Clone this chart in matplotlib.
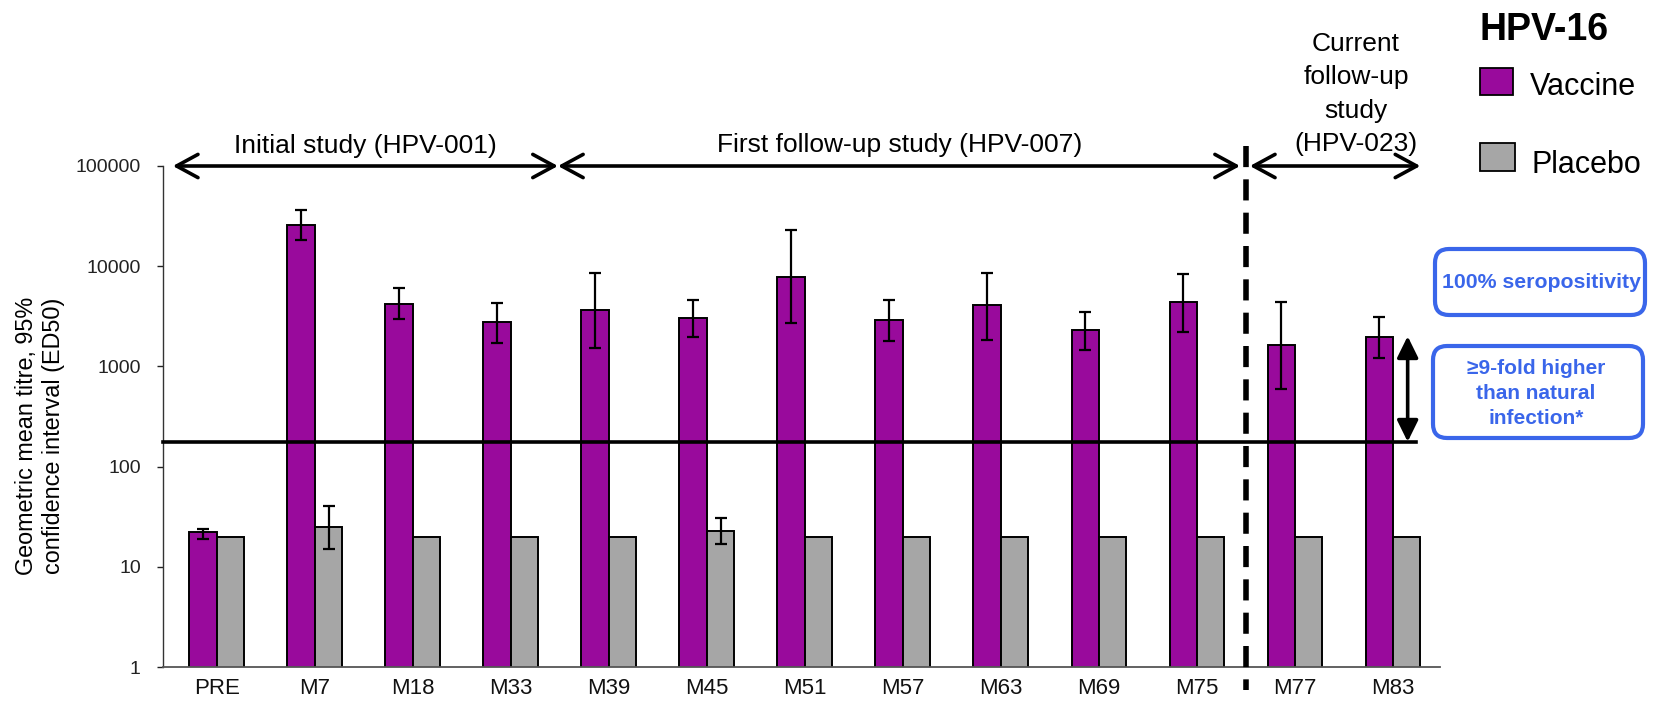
import matplotlib
matplotlib.use('Agg')
import matplotlib.pyplot as plt
import numpy as np
from matplotlib.patches import Rectangle, FancyBboxPatch
from matplotlib.ticker import FixedLocator, FixedFormatter, NullLocator

plt.rcParams['font.family'] = ['Liberation Sans', 'DejaVu Sans']

# timepoints
timepoints = ['PRE', 'M7', 'M18', 'M33', 'M39', 'M45', 'M51', 'M57', 'M63', 'M69', 'M75', 'M77', 'M83']

# HPV-16 geometric mean titres (ED50) with 95% CI
vaccine = [22, 25600, 4200, 2770, 3650, 3040, 7800, 2900, 4090, 2310, 4380, 1640, 1970]
vaccine_lo = [18.8, 18100, 2970, 1710, 1530, 1970, 2710, 1790, 1840, 1460, 2200, 600, 1220]
vaccine_hi = [24.1, 36100, 6040, 4280, 8510, 4590, 22800, 4590, 8510, 3480, 8320, 4400, 3110]

placebo = [20, 25, 20, 20, 20, 23, 20, 20, 20, 20, 20, 20, 20]
placebo_lo = [np.nan, 15, np.nan, np.nan, np.nan, 17, np.nan, np.nan, np.nan, np.nan, np.nan, np.nan, np.nan]
placebo_hi = [np.nan, 40, np.nan, np.nan, np.nan, 31, np.nan, np.nan, np.nan, np.nan, np.nan, np.nan, np.nan]

natural_infection = 177     # horizontal reference level
ninefold_top = 2000         # top of the vertical double arrow
y_ticks = [1, 10, 100, 1000, 10000, 100000]
y_ticklabels = ['1', '10', '100', '1000', '10000', '100000']

studies = ['Initial study (HPV-001)', 'First follow-up study (HPV-007)',
           'Current\nfollow-up\nstudy\n(HPV-023)']

PURPLE = '#990a9c'
GREY = '#a6a6a6'
BLUE = '#3a66ea'

W, H = 1655, 701
fig = plt.figure(figsize=(W / 100, H / 100), dpi=100)
ax = fig.add_axes([163 / W, (H - 667) / H, (1440 - 163) / W, (667 - 166) / H])
ax.patch.set_alpha(0)

x = np.arange(len(timepoints))
bw = 0.28
vaccine = np.array(vaccine)
placebo = np.array(placebo)

ax.bar(x - bw / 2, vaccine, bw, color=PURPLE, edgecolor='black', linewidth=1.4, zorder=2)
ax.bar(x + bw / 2, placebo, bw, color=GREY, edgecolor='black', linewidth=1.4, zorder=2)

v_err = [vaccine - np.array(vaccine_lo), np.array(vaccine_hi) - vaccine]
ax.errorbar(x - bw / 2, vaccine, yerr=v_err, fmt='none', ecolor='black',
            elinewidth=1.6, capsize=4.5, capthick=1.6, zorder=3)
p_err = [placebo - np.array(placebo_lo), np.array(placebo_hi) - placebo]
ax.errorbar(x + bw / 2, placebo, yerr=p_err, fmt='none', ecolor='black',
            elinewidth=1.6, capsize=4.5, capthick=1.6, zorder=3)

ax.set_yscale('log')
ax.set_ylim(1, 100000)
ax.set_xlim(-0.55, 12.48)

ax.yaxis.set_major_locator(FixedLocator(y_ticks))
ax.yaxis.set_major_formatter(FixedFormatter(y_ticklabels))
ax.yaxis.set_minor_locator(NullLocator())
ax.tick_params(axis='y', length=4, width=1, pad=12, labelsize=14, colors='#222222')
ax.set_xticks(x)
ax.set_xticklabels(timepoints)
ax.tick_params(axis='x', length=0, pad=8, labelsize=16, colors='#111111')

for s in ['top', 'right']:
    ax.spines[s].set_visible(False)
ax.spines['left'].set_color('#333333')
ax.spines['bottom'].set_color('#555555')
ax.spines['left'].set_linewidth(1.0)
ax.spines['bottom'].set_linewidth(1.3)

# natural infection level
ax.plot([-0.55, 12.24], [natural_infection, natural_infection], color='black', lw=2.6,
        zorder=4, clip_on=False)
ax.annotate('', xy=(12.15, ninefold_top), xytext=(12.15, natural_infection),
            arrowprops=dict(arrowstyle='<|-|>,head_length=0.65,head_width=0.32',
                            color='black', lw=2.6, shrinkA=0, shrinkB=0,
                            mutation_scale=20), annotation_clip=False)

# study separator
ax.plot([10.5, 10.5], [1.6e5, 0.59], color='black', lw=4, linestyle=(0, (3.8, 2.2)),
        clip_on=False, zorder=5)

# study period arrows
arrow_kw = dict(arrowstyle='<->,head_length=0.7,head_width=0.38', color='black', lw=2.6,
                shrinkA=0, shrinkB=0, mutation_scale=22)
for x0, x1 in [(-0.45, 3.48), (3.48, 10.44), (10.54, 12.28)]:
    ax.annotate('', xy=(x1, 1e5), xytext=(x0, 1e5), arrowprops=arrow_kw,
                annotation_clip=False)

fig.text(365 / W, 1 - 146 / H, studies[0], fontsize=19, ha='center', va='center')
fig.text(900 / W, 1 - 145 / H, studies[1], fontsize=19, ha='center', va='center')
fig.text(1356 / W, 1 - 94 / H, studies[2], fontsize=19, ha='center', va='center',
         linespacing=1.5)

fig.text(40 / W, 1 - 436 / H, 'Geometric mean titre, 95%\nconfidence interval (ED50)',
         fontsize=16.8, rotation=90, ha='center', va='center', linespacing=1.2)

# legend
fig.text(1480 / W, 1 - 30 / H, 'HPV-16', fontsize=27, fontweight='bold', ha='left', va='center')
fig.add_artist(Rectangle((14.80, (H - 95) / 100), 0.33, 0.27, transform=fig.dpi_scale_trans,
                         facecolor=PURPLE, edgecolor='black', lw=1.3))
fig.text(1530 / W, 1 - 87 / H, 'Vaccine', fontsize=22, ha='left', va='center')
fig.add_artist(Rectangle((14.80, (H - 171) / 100), 0.35, 0.28, transform=fig.dpi_scale_trans,
                         facecolor=GREY, edgecolor='black', lw=1.3))
fig.text(1532 / W, 1 - 165 / H, 'Placebo', fontsize=22, ha='left', va='center')

# blue call-out boxes
for (bx0, by0, bw_, bh_) in [(1435, 315, 210, 66), (1433, 438, 210, 92)]:
    fig.add_artist(FancyBboxPatch((bx0 / 100, (H - by0) / 100), bw_ / 100, bh_ / 100,
                                  boxstyle='round,pad=0,rounding_size=0.14',
                                  transform=fig.dpi_scale_trans,
                                  facecolor='white', edgecolor=BLUE, lw=3))
fig.text(1541 / W, 1 - 282 / H, '100% seropositivity', fontsize=15.3, fontweight='bold',
         color=BLUE, ha='center', va='center')
fig.text(1536 / W, 1 - 393 / H, '\u22659-fold higher\nthan natural\ninfection*', fontsize=15,
         fontweight='bold', color=BLUE, ha='center', va='center', linespacing=1.4)

fig.savefig('out.png', dpi=100, facecolor='white')
